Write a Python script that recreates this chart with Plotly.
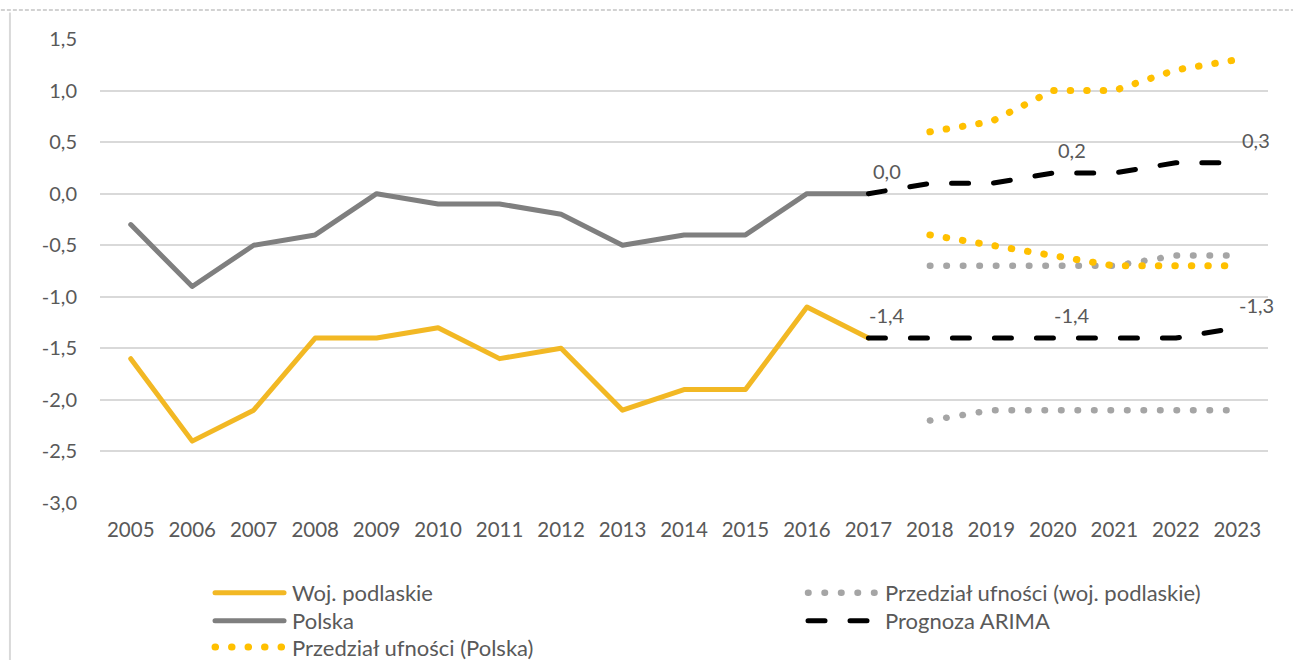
import plotly.graph_objects as go

years = list(range(2005, 2024))

# historical series 2005-2017
podlaskie = [-1.6, -2.4, -2.1, -1.4, -1.4, -1.3, -1.6, -1.5, -2.1, -1.9, -1.9, -1.1, -1.4] + [None] * 6
polska = [-0.3, -0.9, -0.5, -0.4, 0.0, -0.1, -0.1, -0.2, -0.5, -0.4, -0.4, 0.0, 0.0] + [None] * 6

# ARIMA forecasts 2017-2023
arima_polska = [None] * 12 + [0.0, 0.1, 0.1, 0.2, 0.2, 0.3, 0.3]
arima_podlaskie = [None] * 12 + [-1.4, -1.4, -1.4, -1.4, -1.4, -1.4, -1.3]

# confidence intervals 2018-2023
ci_polska_hi = [None] * 13 + [0.6, 0.7, 1.0, 1.0, 1.2, 1.3]
ci_polska_lo = [None] * 13 + [-0.4, -0.5, -0.6, -0.7, -0.7, -0.7]
ci_podl_hi = [None] * 13 + [-0.7, -0.7, -0.7, -0.7, -0.6, -0.6]
ci_podl_lo = [None] * 13 + [-2.2, -2.1, -2.1, -2.1, -2.1, -2.1]

# labelled forecast points (year index)
label_idx = [12, 15, 18]

y_ticks = [1.5, 1.0, 0.5, 0.0, -0.5, -1.0, -1.5, -2.0, -2.5, -3.0]
y_tick_text = ["1,5", "1,0", "0,5", "0,0", "-0,5", "-1,0", "-1,5", "-2,0", "-2,5", "-3,0"]

YELLOW = "#F2B824"
YELLOW_DOT = "#FFC000"
GRAY = "#7F7F7F"
GRAY_DOT = "#A5A5A5"
TEXT = "#595959"
FONT = "Lato, 'Open Sans', sans-serif"

DOTS = "0.5px,16px"
DASHES = "17px,25px"

fig = go.Figure()

fig.add_trace(go.Scatter(x=years, y=podlaskie, mode="lines", name="Woj. podlaskie",
                         line=dict(color=YELLOW, width=5), legend="legend"))
fig.add_trace(go.Scatter(x=years, y=polska, mode="lines", name="Polska",
                         line=dict(color=GRAY, width=5), legend="legend2"))
fig.add_trace(go.Scatter(x=years, y=ci_podl_hi, mode="lines", name="Przedział ufności (woj. podlaskie)",
                         line=dict(color=GRAY_DOT, width=6.5, dash=DOTS),
                         legend="legend4", legendgroup="cid"))
fig.add_trace(go.Scatter(x=years, y=ci_podl_lo, mode="lines", name="Przedział ufności (woj. podlaskie)",
                         line=dict(color=GRAY_DOT, width=6.5, dash=DOTS),
                         legend="legend4", legendgroup="cid", showlegend=False))
fig.add_trace(go.Scatter(x=years, y=ci_polska_hi, mode="lines", name="Przedział ufności (Polska)",
                         line=dict(color=YELLOW_DOT, width=7, dash=DOTS),
                         legend="legend3", legendgroup="cip"))
fig.add_trace(go.Scatter(x=years, y=ci_polska_lo, mode="lines", name="Przedział ufności (Polska)",
                         line=dict(color=YELLOW_DOT, width=7, dash=DOTS),
                         legend="legend3", legendgroup="cip", showlegend=False))
fig.add_trace(go.Scatter(x=years, y=arima_polska, mode="lines", name="Prognoza ARIMA",
                         line=dict(color="#000000", width=5, dash=DASHES),
                         legend="legend5", legendgroup="arima"))
fig.add_trace(go.Scatter(x=years, y=arima_podlaskie, mode="lines", name="Prognoza ARIMA",
                         line=dict(color="#000000", width=5, dash=DASHES),
                         legend="legend5", legendgroup="arima", showlegend=False))


def fmt(v):
    return f"{v:.1f}".replace(".", ",")


for series in (arima_polska, arima_podlaskie):
    for i in label_idx:
        fig.add_annotation(x=years[i], y=series[i], text=fmt(series[i]), showarrow=False,
                           xshift=19, yshift=23, font=dict(family=FONT, size=20, color=TEXT))

# outer frame pieces: dashed top edge and left rule
fig.add_shape(type="line", xref="paper", yref="paper", x0=-0.09, x1=1.03, y0=1.0625, y1=1.0625,
              line=dict(color="#A6A6A6", width=1.2, dash="4px,2px"))
fig.add_shape(type="line", xref="paper", yref="paper", x0=-0.0771, x1=-0.0771, y0=1.057, y1=-0.34,
              line=dict(color="#D9D9D9", width=2))

legend_font = dict(family=FONT, size=22, color=TEXT)
SAMPLE_W = 72


def legend_box(x, y):
    return dict(x=x, y=y, xanchor="left", yanchor="middle", orientation="v",
                font=legend_font, bgcolor="rgba(0,0,0,0)", itemwidth=SAMPLE_W)


LEFT_COL, RIGHT_COL = 0.0942, 0.6019
ROW1, ROW2, ROW3 = -0.194, -0.254, -0.311

fig.update_layout(
    width=1293, height=660,
    margin=dict(l=100, r=25, t=39, b=157, autoexpand=False),
    paper_bgcolor="white", plot_bgcolor="white",
    font=dict(family=FONT, size=20, color=TEXT),
    xaxis=dict(range=[2004.5, 2023.5], tickmode="linear", tick0=2005, dtick=1,
               showgrid=False, showline=False, zeroline=False,
               ticks="", tickfont=dict(size=20.5, color=TEXT), ticklabelstandoff=12),
    yaxis=dict(range=[-3.0, 1.5], tickvals=y_ticks, ticktext=y_tick_text,
               showgrid=True, gridcolor="#D9D9D9", gridwidth=2, zeroline=False,
               showline=False, ticks="", tickfont=dict(size=20, color=TEXT),
               ticklabelstandoff=22),
    legend=legend_box(LEFT_COL, ROW1),
    legend2=legend_box(LEFT_COL, ROW2),
    legend3=legend_box(LEFT_COL, ROW3),
    legend4=legend_box(RIGHT_COL, ROW1),
    legend5=legend_box(RIGHT_COL, ROW2),
    showlegend=True,
)

# round line caps everywhere, and stretch the legend samples across the item width
post = """
var gd = document.getElementById('{plot_id}');
function styleLines() {
  gd.querySelectorAll('path.js-line').forEach(function (p) {
    p.style.strokeLinecap = 'round';
    p.style.strokeLinejoin = 'round';
  });
  gd.querySelectorAll('g.legendlines path.js-line').forEach(function (p) {
    p.setAttribute('d', 'M5,0h%d');
  });
}
styleLines();
gd.on('plotly_afterplot', styleLines);
""" % (SAMPLE_W - 3)

fig.write_html("out.html", post_script=post)
